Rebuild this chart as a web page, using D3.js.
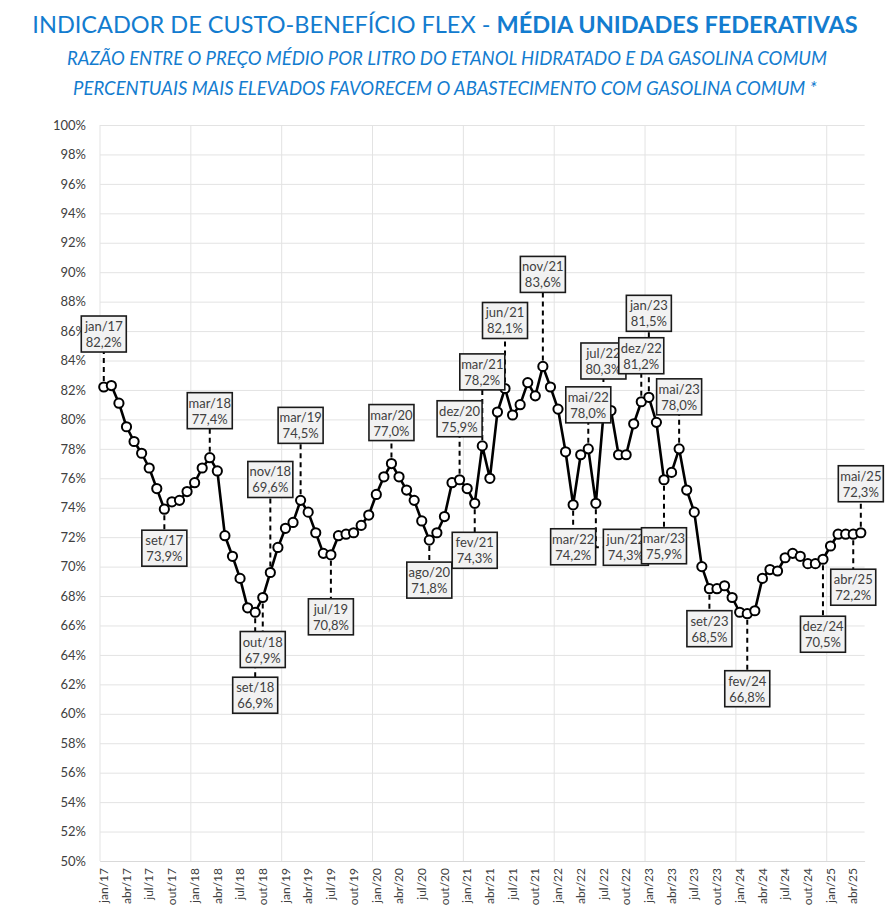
<!DOCTYPE html>
<html>
<head>
<meta charset="utf-8">
<script src="https://cdn.jsdelivr.net/npm/d3@7"></script>
<style>
  body { margin: 0; background: #fff; }
  svg { display: block; font-family: Lato, "Open Sans", sans-serif; }
</style>
</head>
<body>
<svg id="chart" width="886" height="912"></svg>
<script>
// months and years used for the category labels
var monthNames = ["jan","fev","mar","abr","mai","jun","jul","ago","set","out","nov","dez"];
var years = ["17","18","19","20","21","22","23","24","25"];

// ratio etanol / gasolina, jan/17 .. mai/25 (%)
var values2017 = [82.2, 82.3, 81.1, 79.5, 78.5, 77.7, 76.7, 75.3, 73.9, 74.4, 74.5, 75.1];
var values2018 = [75.7, 76.7, 77.4, 76.5, 72.1, 70.7, 69.2, 67.2, 66.9, 67.9, 69.6, 71.3];
var values2019 = [72.6, 73.0, 74.5, 73.7, 72.3, 70.9, 70.8, 72.1, 72.2, 72.3, 72.8, 73.5];
var values2020 = [74.9, 76.1, 77.0, 76.1, 75.2, 74.5, 73.1, 71.8, 72.3, 73.4, 75.7, 75.9];
var values2021 = [75.3, 74.3, 78.2, 76.0, 80.5, 82.1, 80.3, 81.0, 82.5, 81.6, 83.6, 82.2];
var values2022 = [80.7, 77.8, 74.2, 77.6, 78.0, 74.3, 80.3, 80.6, 77.6, 77.6, 79.7, 81.2];
var values2023 = [81.5, 79.8, 75.9, 76.4, 78.0, 75.2, 73.7, 70.0, 68.5, 68.5, 68.7, 67.9];
var values2024 = [66.9, 66.8, 67.0, 69.2, 69.8, 69.7, 70.6, 70.9, 70.7, 70.2, 70.2, 70.5];
var values2025 = [71.4, 72.2, 72.2, 72.2, 72.3];

var yTicks = [50,52,54,56,58,60,62,64,66,68,70,72,74,76,78,80,82,84,86,88,90,92,94,96,98,100];

// annotated months
var labelled = ["jan/17","set/17","mar/18","set/18","out/18","nov/18","mar/19","jul/19","mar/20","ago/20",
  "dez/20","fev/21","mar/21","jun/21","nov/21","mar/22","mai/22","jun/22","jul/22","dez/22","jan/23",
  "mar/23","mai/23","set/23","fev/24","dez/24","abr/25","mai/25"];

// box offsets from the point (layout only)
var boxOffsets = {
  "jan/17": [0,-53], "set/17": [0,39], "mar/18": [0,-47], "set/18": [0,83], "out/18": [0,52],
  "nov/18": [0,-93], "mar/19": [0,-75], "jul/19": [0,62], "mar/20": [0,-41], "ago/20": [0,40],
  "dez/20": [0,-61], "fev/21": [0,47], "mar/21": [0,-74], "jun/21": [0,-68], "nov/21": [0,-92],
  "mar/22": [0,42], "mai/22": [0,-44], "jun/22": [30,44], "jul/22": [0,-54], "dez/22": [0,-46],
  "jan/23": [0,-84], "mar/23": [0,66], "mai/23": [0,-52], "set/23": [0,40], "fev/24": [0,75],
  "dez/24": [0,75], "abr/25": [0,53], "mai/25": [0,-49]
};

(function() {
  var categories = [];
  years.forEach(function(yr) {
    monthNames.forEach(function(m) { categories.push(m + "/" + yr); });
  });
  categories = categories.slice(0, 101);
  var values = [].concat(values2017, values2018, values2019, values2020, values2021,
    values2022, values2023, values2024, values2025);
  var data = categories.map(function(c, i) { return { cat: c, v: values[i] }; });

  var svg = d3.select("#chart");
  var blue = "#137ccf";
  var textGray = "#404040";

  // titles
  var t = svg.append("text").attr("x", 445).attr("y", 33).attr("text-anchor", "middle")
    .attr("fill", blue).style("font-size", "23.5px");
  t.append("tspan").text("INDICADOR DE CUSTO-BENEFÍCIO FLEX - ");
  t.append("tspan").style("font-weight", "bold").text("MÉDIA UNIDADES FEDERATIVAS");

  svg.append("text").attr("x", 447).attr("y", 65).attr("text-anchor", "middle")
    .attr("fill", blue).style("font-size", "18.5px").style("font-style", "italic")
    .text("RAZÃO ENTRE O PREÇO MÉDIO POR LITRO DO ETANOL HIDRATADO E DA GASOLINA COMUM");
  svg.append("text").attr("x", 445).attr("y", 95).attr("text-anchor", "middle")
    .attr("fill", blue).style("font-size", "18.5px").style("font-style", "italic")
    .text("PERCENTUAIS MAIS ELEVADOS FAVORECEM O ABASTECIMENTO COM GASOLINA COMUM *");

  var pLeft = 100, pRight = 864.6, pTop = 125, pBottom = 861;

  var x = d3.scaleBand().domain(categories).range([pLeft, pRight]).padding(0);
  var y = d3.scaleLinear().domain([50, 100]).range([pBottom, pTop]);
  var cx = function(c) { return x(c) + x.bandwidth() / 2; };

  // y axis + horizontal grid
  var yAxis = svg.append("g").attr("transform", "translate(" + pLeft + ",0)")
    .call(d3.axisLeft(y).tickValues(yTicks).tickFormat(function(d) { return d + "%"; })
      .tickSize(-(pRight - pLeft)).tickPadding(14));
  yAxis.select(".domain").remove();
  yAxis.selectAll("line").attr("stroke", "#e3e3e3");
  yAxis.selectAll("text").attr("fill", textGray).style("font-size", "13px")
    .style("font-family", "Lato, sans-serif");

  // vertical grid at year boundaries
  var yearStarts = categories.filter(function(c, i) { return i % 12 === 0; });
  svg.append("g").selectAll("line").data(yearStarts).enter().append("line")
    .attr("x1", function(d) { return x(d); }).attr("x2", function(d) { return x(d); })
    .attr("y1", pTop).attr("y2", pBottom)
    .attr("stroke", "#e3e3e3");

  // x axis
  var xAxis = svg.append("g").attr("transform", "translate(0," + pBottom + ")")
    .call(d3.axisBottom(x).tickValues(categories.filter(function(c, i) { return i % 3 === 0; }))
      .tickSize(0));
  xAxis.select(".domain").attr("stroke", "#d9d9d9");
  xAxis.selectAll("text")
    .attr("transform", "rotate(-90)")
    .attr("text-anchor", "end")
    .attr("x", -7).attr("y", 0).attr("dy", "0.35em")
    .attr("fill", textGray).style("font-size", "12px")
    .style("font-family", "Lato, sans-serif");

  // line
  var line = d3.line().x(function(d) { return cx(d.cat); }).y(function(d) { return y(d.v); });
  svg.append("path").datum(data).attr("d", line)
    .attr("fill", "none").attr("stroke", "#000").attr("stroke-width", 2.6)
    .attr("stroke-linejoin", "round");

  svg.append("g").selectAll("circle").data(data).enter().append("circle")
    .attr("cx", function(d) { return cx(d.cat); })
    .attr("cy", function(d) { return y(d.v); })
    .attr("r", 4.6)
    .attr("fill", "#fff").attr("stroke", "#000").attr("stroke-width", 2);

  // annotations
  var ann = data.filter(function(d) { return labelled.indexOf(d.cat) >= 0; });
  var bw = 45, bh = 36;
  var fmt = function(v) { return v.toFixed(1).replace(".", ",") + "%"; };

  var leaders = svg.append("g");
  ann.forEach(function(d) {
    var off = boxOffsets[d.cat];
    var px = cx(d.cat), py = y(d.v);
    var down = off[1] > 0;
    var by = py + off[1] + (down ? -bh / 2 : bh / 2);
    var sy = py + (down ? 6 : -6);
    var pts;
    if (off[0] !== 0) {
      var ey = py + off[1];
      pts = [[px, sy], [px, ey], [px + off[0] - bw / 2, ey]];
    } else {
      pts = [[px, sy], [px, by]];
    }
    leaders.append("path").attr("d", d3.line()(pts))
      .attr("fill", "none").attr("stroke", "#000").attr("stroke-width", 2)
      .attr("stroke-dasharray", "5,4");
  });

  var boxes = svg.append("g").selectAll("g").data(ann).enter().append("g")
    .attr("transform", function(d) {
      var off = boxOffsets[d.cat];
      return "translate(" + (cx(d.cat) + off[0]) + "," + (y(d.v) + off[1]) + ")";
    });
  boxes.append("rect").attr("x", -bw / 2).attr("y", -bh / 2).attr("width", bw).attr("height", bh)
    .attr("fill", "#f2f2f2").attr("stroke", "#1a1a1a").attr("stroke-width", 1.6);
  boxes.append("text").attr("text-anchor", "middle").attr("y", -3)
    .attr("fill", textGray).style("font-size", "13px").text(function(d) { return d.cat; });
  boxes.append("text").attr("text-anchor", "middle").attr("y", 13)
    .attr("fill", textGray).style("font-size", "13px").text(function(d) { return fmt(d.v); });
})();
</script>
</body>
</html>
